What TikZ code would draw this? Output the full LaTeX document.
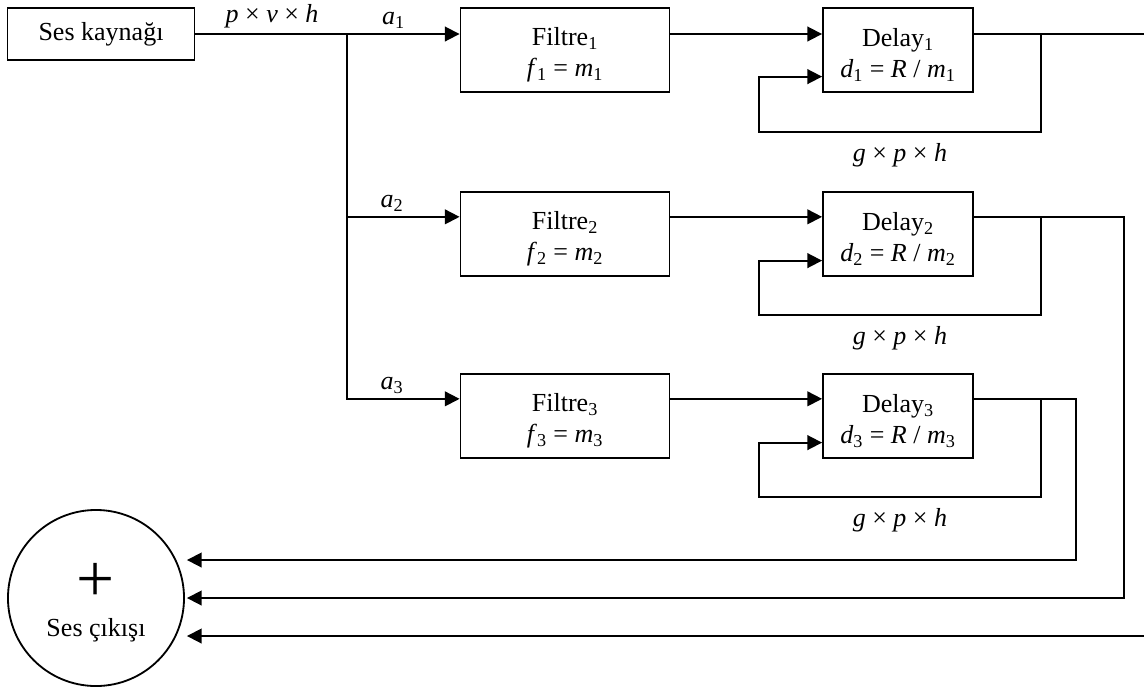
\documentclass[tikz,border=0pt]{standalone}
\usepackage{fontspec}
\setmainfont{Liberation Serif}
\usetikzlibrary{positioning,calc,arrows.meta}
\newcommand{\iv}[2]{\textit{#1}\textsubscript{#2}}

\begin{document}
\begin{tikzpicture}[x=0.025cm,y=-0.025cm,line width=1.3pt,
    font=\fontsize{18.5}{22}\selectfont,
    blok/.style={draw,rectangle,minimum height=2.1cm,align=center,inner sep=0pt},
    ok/.style={-{Triangle[length=0.37cm,width=0.37cm]}}]
    \useasboundingbox (0,0) rectangle (1144,693);

    \node[blok,minimum width=4.675cm,minimum height=1.3cm] (src) at (101,34) {Ses kaynağı};

    \node[blok,minimum width=5.225cm] (f1) at (565,50)  {\rule{0pt}{20pt}Filtre\textsubscript{1}\\ \iv{f}{1} = \iv{m}{1}};
    \node[blok,minimum width=5.225cm] (f2) at (565,234) {\rule{0pt}{20pt}Filtre\textsubscript{2}\\ \iv{f}{2} = \iv{m}{2}};
    \node[blok,minimum width=5.225cm] (f3) at (565,416) {\rule{0pt}{20pt}Filtre\textsubscript{3}\\ \iv{f}{3} = \iv{m}{3}};

    \node[blok,minimum width=3.75cm] (d1) at (898,50)  {\rule{0pt}{20pt}Delay\textsubscript{1}\\ \iv{d}{1} = \textit{R} / \iv{m}{1}};
    \node[blok,minimum width=3.75cm] (d2) at (898,234) {\rule{0pt}{20pt}Delay\textsubscript{2}\\ \iv{d}{2} = \textit{R} / \iv{m}{2}};
    \node[blok,minimum width=3.75cm] (d3) at (898,416) {\rule{0pt}{20pt}Delay\textsubscript{3}\\ \iv{d}{3} = \textit{R} / \iv{m}{3}};

    \node[draw,circle,minimum size=4.4cm,inner sep=0pt] (sum) at (96,598) {};
    \node (plus)   at (96,582) {\fontsize{48}{48}\selectfont +};
    \node (outlbl) at (96,630) {Ses çıkışı};

    % signal rows
    \coordinate (f1in) at (f1.west |- src.east);
    \coordinate (f2in) at ($(f2.north west)!0.3!(f2.south west)$);
    \coordinate (f3in) at ($(f3.north west)!0.3!(f3.south west)$);
    \coordinate (fb1)  at ($(d1.north west)!0.81!(d1.south west)$);
    \coordinate (fb2)  at ($(d2.north west)!0.81!(d2.south west)$);
    \coordinate (fb3)  at ($(d3.north west)!0.81!(d3.south west)$);
    \coordinate (bus)  at (347,34);
    \coordinate (j1)   at ($(d1.east |- f1in)+(67,0)$);
    \coordinate (j2)   at ($(d2.east |- f2in)+(67,0)$);
    \coordinate (j3)   at ($(d3.east |- f3in)+(67,0)$);
    \coordinate (edge1) at (1144,34);
    \coordinate (s1)   at ($(sum.east)+(2,-38)$);
    \coordinate (s2)   at ($(sum.east)+(2,0)$);
    \coordinate (s3)   at ($(sum.east)+(2,38)$);

    \draw[ok] (src.east) -- node[above,pos=0.29] {\textit{p} × \textit{v} × \textit{h}}
                           node[above,pos=0.75] {\iv{a}{1}} (f1in);
    \draw[ok] (bus) |- node[above,pos=0.7] {\iv{a}{2}} (f2in);
    \draw[ok] (bus) |- node[above,pos=0.7] {\iv{a}{3}} (f3in);

    \draw[ok] (f1.east |- f1in) -- (d1.west |- f1in);
    \draw[ok] (f2.east |- f2in) -- (d2.west |- f2in);
    \draw[ok] (f3.east |- f3in) -- (d3.west |- f3in);

    % feedback loops
    \draw (d1.east |- f1in) -- (j1);
    \draw (d2.east |- f2in) -- (j2);
    \draw (d3.east |- f3in) -- (j3);
    \draw[ok] (j1) |- node[below=4pt,pos=0.75] {\textit{g} × \textit{p} × \textit{h}} (759,132) |- (fb1);
    \draw[ok] (j2) |- node[below=4pt,pos=0.75] {\textit{g} × \textit{p} × \textit{h}} (759,315) |- (fb2);
    \draw[ok] (j3) |- node[below=4pt,pos=0.75] {\textit{g} × \textit{p} × \textit{h}} (759,497) |- (fb3);

    % to the output
    \draw (j1) -- (edge1);
    \draw[ok] (j2) -- ++(83,0) |- (s2);
    \draw[ok] (j3) -- ++(35,0) |- (s1);
    \draw[ok] (s3 -| edge1) -- (s3);
\end{tikzpicture}
\end{document}
